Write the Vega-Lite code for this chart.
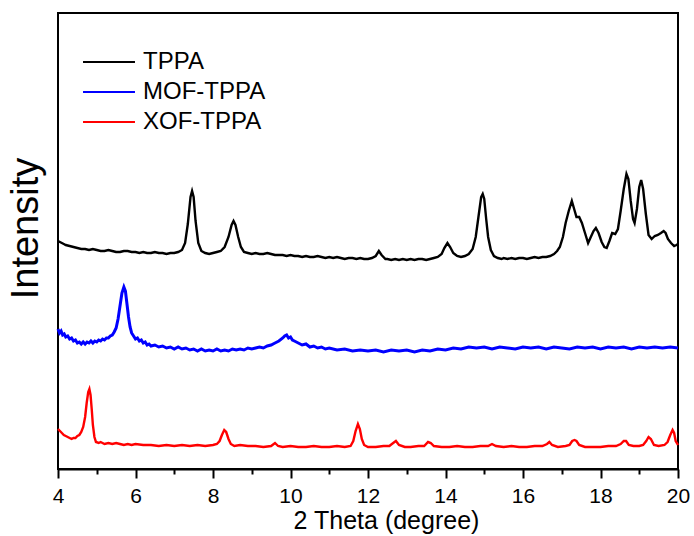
{
  "$schema": "https://vega.github.io/schema/vega-lite/v6.json",
  "width": 620,
  "height": 456,
  "autosize": {"type": "none"},
  "padding": {"left": 58, "top": 13, "right": 16, "bottom": 67},
  "background": "white",
  "config": {
    "view": {"stroke": "black", "strokeWidth": 2},
    "font": "Liberation Sans",
    "axis": {"grid": false, "domainColor": "black", "tickColor": "black", "labelColor": "black", "titleColor": "black", "titleFontWeight": "normal", "labelFont": "Liberation Sans", "titleFont": "Liberation Sans"},
    "legend": {"labelFont": "Liberation Sans", "labelColor": "black"}
  },
  "datasets": {
    "tppa": [
      {"x":4.0,"y":228},{"x":4.05,"y":227},{"x":4.1,"y":226},{"x":4.15,"y":225},{"x":4.2,"y":224},{"x":4.3,"y":223},{"x":4.4,"y":222},{"x":4.5,"y":221},{"x":4.6,"y":220},{"x":4.7,"y":220},{"x":4.8,"y":219},{"x":4.9,"y":220},{"x":5.0,"y":219},{"x":5.1,"y":218},{"x":5.2,"y":218},{"x":5.3,"y":219},{"x":5.4,"y":218},{"x":5.5,"y":217},{"x":5.6,"y":217},{"x":5.7,"y":218},{"x":5.8,"y":218},{"x":5.9,"y":217},{"x":6.0,"y":217},{"x":6.1,"y":216},{"x":6.2,"y":217},{"x":6.3,"y":216},{"x":6.4,"y":216},{"x":6.5,"y":217},{"x":6.6,"y":216},{"x":6.7,"y":216},{"x":6.8,"y":215},{"x":6.9,"y":216},{"x":7.0,"y":216},{"x":7.1,"y":217},{"x":7.2,"y":219},{"x":7.28,"y":226},{"x":7.35,"y":245},{"x":7.42,"y":272},{"x":7.46,"y":278},{"x":7.5,"y":272},{"x":7.55,"y":248},{"x":7.62,"y":226},{"x":7.7,"y":218},{"x":7.8,"y":216},{"x":7.9,"y":215},{"x":8.0,"y":216},{"x":8.1,"y":217},{"x":8.2,"y":218},{"x":8.3,"y":222},{"x":8.4,"y":232},{"x":8.48,"y":244},{"x":8.53,"y":248},{"x":8.58,"y":244},{"x":8.65,"y":232},{"x":8.72,"y":222},{"x":8.8,"y":217},{"x":8.9,"y":216},{"x":9.0,"y":215},{"x":9.1,"y":216},{"x":9.2,"y":215},{"x":9.3,"y":215},{"x":9.4,"y":216},{"x":9.5,"y":215},{"x":9.6,"y":214},{"x":9.7,"y":214},{"x":9.8,"y":214},{"x":9.9,"y":213},{"x":10.0,"y":214},{"x":10.1,"y":213},{"x":10.2,"y":213},{"x":10.3,"y":212},{"x":10.4,"y":213},{"x":10.5,"y":212},{"x":10.6,"y":212},{"x":10.7,"y":213},{"x":10.8,"y":212},{"x":10.9,"y":211},{"x":11.0,"y":212},{"x":11.1,"y":211},{"x":11.2,"y":212},{"x":11.3,"y":211},{"x":11.4,"y":210},{"x":11.5,"y":211},{"x":11.6,"y":211},{"x":11.7,"y":210},{"x":11.8,"y":211},{"x":11.9,"y":210},{"x":12.0,"y":210},{"x":12.1,"y":211},{"x":12.2,"y":213},{"x":12.28,"y":218},{"x":12.35,"y":214},{"x":12.45,"y":210},{"x":12.5,"y":210},{"x":12.6,"y":209},{"x":12.7,"y":210},{"x":12.8,"y":209},{"x":12.9,"y":210},{"x":13.0,"y":209},{"x":13.1,"y":210},{"x":13.2,"y":209},{"x":13.3,"y":210},{"x":13.4,"y":210},{"x":13.5,"y":209},{"x":13.6,"y":210},{"x":13.7,"y":211},{"x":13.8,"y":212},{"x":13.9,"y":215},{"x":13.97,"y":221},{"x":14.05,"y":226},{"x":14.12,"y":222},{"x":14.2,"y":216},{"x":14.3,"y":213},{"x":14.4,"y":212},{"x":14.5,"y":213},{"x":14.6,"y":215},{"x":14.7,"y":220},{"x":14.78,"y":232},{"x":14.85,"y":252},{"x":14.92,"y":272},{"x":14.96,"y":275},{"x":15.0,"y":270},{"x":15.05,"y":250},{"x":15.1,"y":232},{"x":15.17,"y":219},{"x":15.25,"y":213},{"x":15.35,"y":211},{"x":15.45,"y":210},{"x":15.5,"y":211},{"x":15.6,"y":210},{"x":15.7,"y":211},{"x":15.8,"y":210},{"x":15.9,"y":211},{"x":16.0,"y":211},{"x":16.1,"y":210},{"x":16.2,"y":211},{"x":16.3,"y":212},{"x":16.4,"y":211},{"x":16.5,"y":212},{"x":16.6,"y":212},{"x":16.7,"y":213},{"x":16.8,"y":215},{"x":16.88,"y":218},{"x":16.95,"y":222},{"x":17.03,"y":232},{"x":17.1,"y":246},{"x":17.18,"y":258},{"x":17.26,"y":268},{"x":17.32,"y":260},{"x":17.38,"y":252},{"x":17.45,"y":252},{"x":17.52,"y":246},{"x":17.6,"y":236},{"x":17.68,"y":226},{"x":17.75,"y":232},{"x":17.82,"y":238},{"x":17.88,"y":241},{"x":17.95,"y":236},{"x":18.03,"y":227},{"x":18.1,"y":222},{"x":18.16,"y":221},{"x":18.23,"y":228},{"x":18.3,"y":236},{"x":18.38,"y":235},{"x":18.45,"y":240},{"x":18.52,"y":258},{"x":18.6,"y":280},{"x":18.67,"y":295},{"x":18.72,"y":290},{"x":18.78,"y":268},{"x":18.84,"y":250},{"x":18.88,"y":246},{"x":18.94,"y":260},{"x":19.0,"y":282},{"x":19.05,"y":289},{"x":19.1,"y":280},{"x":19.17,"y":255},{"x":19.24,"y":234},{"x":19.32,"y":230},{"x":19.4,"y":233},{"x":19.48,"y":234},{"x":19.56,"y":236},{"x":19.63,"y":238},{"x":19.68,"y":236},{"x":19.74,"y":230},{"x":19.82,"y":226},{"x":19.9,"y":223},{"x":19.96,"y":224},{"x":20.0,"y":225}
    ],
    "mof": [
      {"x":4.0,"y":140},{"x":4.04,"y":136},{"x":4.08,"y":138},{"x":4.12,"y":134},{"x":4.16,"y":135},{"x":4.2,"y":132},{"x":4.25,"y":133},{"x":4.3,"y":130},{"x":4.35,"y":131},{"x":4.4,"y":128},{"x":4.45,"y":129},{"x":4.5,"y":126},{"x":4.55,"y":127},{"x":4.6,"y":125},{"x":4.65,"y":127},{"x":4.7,"y":125},{"x":4.75,"y":127},{"x":4.8,"y":126},{"x":4.85,"y":128},{"x":4.9,"y":126},{"x":4.95,"y":128},{"x":5.0,"y":127},{"x":5.05,"y":129},{"x":5.1,"y":128},{"x":5.15,"y":130},{"x":5.2,"y":129},{"x":5.25,"y":131},{"x":5.3,"y":131},{"x":5.35,"y":133},{"x":5.4,"y":134},{"x":5.45,"y":137},{"x":5.5,"y":141},{"x":5.55,"y":150},{"x":5.6,"y":163},{"x":5.65,"y":176},{"x":5.7,"y":182},{"x":5.74,"y":178},{"x":5.78,"y":165},{"x":5.82,"y":152},{"x":5.86,"y":142},{"x":5.9,"y":136},{"x":5.95,"y":133},{"x":6.0,"y":130},{"x":6.05,"y":131},{"x":6.1,"y":128},{"x":6.15,"y":129},{"x":6.2,"y":126},{"x":6.25,"y":127},{"x":6.3,"y":124},{"x":6.35,"y":125},{"x":6.4,"y":123},{"x":6.5,"y":124},{"x":6.6,"y":122},{"x":6.7,"y":123},{"x":6.8,"y":121},{"x":6.9,"y":122},{"x":7.0,"y":120},{"x":7.1,"y":122},{"x":7.2,"y":120},{"x":7.3,"y":121},{"x":7.4,"y":119},{"x":7.5,"y":120},{"x":7.6,"y":118},{"x":7.7,"y":120},{"x":7.8,"y":118},{"x":7.9,"y":119},{"x":8.0,"y":118},{"x":8.1,"y":120},{"x":8.2,"y":118},{"x":8.3,"y":119},{"x":8.4,"y":118},{"x":8.5,"y":120},{"x":8.6,"y":119},{"x":8.7,"y":120},{"x":8.8,"y":119},{"x":8.9,"y":121},{"x":9.0,"y":120},{"x":9.1,"y":121},{"x":9.2,"y":122},{"x":9.3,"y":121},{"x":9.4,"y":123},{"x":9.5,"y":124},{"x":9.6,"y":126},{"x":9.7,"y":128},{"x":9.8,"y":131},{"x":9.85,"y":133},{"x":9.9,"y":134},{"x":9.95,"y":131},{"x":10.0,"y":132},{"x":10.05,"y":129},{"x":10.1,"y":128},{"x":10.2,"y":126},{"x":10.3,"y":124},{"x":10.4,"y":125},{"x":10.5,"y":122},{"x":10.6,"y":123},{"x":10.7,"y":121},{"x":10.8,"y":122},{"x":10.9,"y":120},{"x":11.0,"y":121},{"x":11.2,"y":119},{"x":11.4,"y":120},{"x":11.6,"y":118},{"x":11.8,"y":119},{"x":12.0,"y":118},{"x":12.2,"y":119},{"x":12.4,"y":117},{"x":12.6,"y":119},{"x":12.8,"y":118},{"x":13.0,"y":119},{"x":13.2,"y":117},{"x":13.4,"y":119},{"x":13.6,"y":118},{"x":13.8,"y":120},{"x":14.0,"y":119},{"x":14.2,"y":121},{"x":14.4,"y":120},{"x":14.6,"y":122},{"x":14.8,"y":121},{"x":15.0,"y":122},{"x":15.2,"y":120},{"x":15.4,"y":122},{"x":15.6,"y":121},{"x":15.8,"y":120},{"x":16.0,"y":122},{"x":16.2,"y":121},{"x":16.4,"y":122},{"x":16.6,"y":120},{"x":16.8,"y":122},{"x":17.0,"y":121},{"x":17.2,"y":120},{"x":17.4,"y":122},{"x":17.6,"y":121},{"x":17.8,"y":122},{"x":18.0,"y":120},{"x":18.2,"y":122},{"x":18.4,"y":121},{"x":18.6,"y":122},{"x":18.8,"y":120},{"x":19.0,"y":122},{"x":19.2,"y":121},{"x":19.4,"y":122},{"x":19.6,"y":121},{"x":19.8,"y":122},{"x":20.0,"y":121}
    ],
    "xof": [
      {"x":4.0,"y":40},{"x":4.05,"y":38},{"x":4.1,"y":36},{"x":4.15,"y":34},{"x":4.2,"y":33},{"x":4.25,"y":32},{"x":4.3,"y":31},{"x":4.35,"y":30},{"x":4.4,"y":31},{"x":4.45,"y":31},{"x":4.5,"y":33},{"x":4.55,"y":34},{"x":4.6,"y":37},{"x":4.65,"y":42},{"x":4.7,"y":52},{"x":4.74,"y":66},{"x":4.78,"y":77},{"x":4.81,"y":80},{"x":4.84,"y":74},{"x":4.87,"y":60},{"x":4.9,"y":44},{"x":4.94,"y":32},{"x":4.98,"y":27},{"x":5.05,"y":26},{"x":5.1,"y":27},{"x":5.2,"y":25},{"x":5.3,"y":26},{"x":5.4,"y":25},{"x":5.5,"y":26},{"x":5.6,"y":25},{"x":5.7,"y":24},{"x":5.8,"y":25},{"x":5.9,"y":24},{"x":6.0,"y":25},{"x":6.2,"y":24},{"x":6.4,"y":24},{"x":6.6,"y":23},{"x":6.8,"y":24},{"x":7.0,"y":23},{"x":7.2,"y":24},{"x":7.4,"y":23},{"x":7.6,"y":24},{"x":7.8,"y":23},{"x":8.0,"y":24},{"x":8.1,"y":25},{"x":8.17,"y":28},{"x":8.23,"y":34},{"x":8.29,"y":39},{"x":8.34,"y":37},{"x":8.4,"y":30},{"x":8.46,"y":25},{"x":8.55,"y":23},{"x":8.7,"y":24},{"x":8.9,"y":23},{"x":9.1,"y":23},{"x":9.3,"y":22},{"x":9.5,"y":23},{"x":9.6,"y":26},{"x":9.68,"y":23},{"x":9.8,"y":22},{"x":10.0,"y":23},{"x":10.2,"y":22},{"x":10.4,"y":22},{"x":10.6,"y":23},{"x":10.8,"y":22},{"x":11.0,"y":22},{"x":11.2,"y":23},{"x":11.4,"y":22},{"x":11.55,"y":23},{"x":11.62,"y":28},{"x":11.68,"y":38},{"x":11.74,"y":45},{"x":11.79,"y":40},{"x":11.84,"y":30},{"x":11.9,"y":24},{"x":12.0,"y":22},{"x":12.2,"y":22},{"x":12.4,"y":23},{"x":12.55,"y":23},{"x":12.65,"y":26},{"x":12.72,"y":28},{"x":12.8,"y":24},{"x":12.95,"y":22},{"x":13.1,"y":22},{"x":13.3,"y":23},{"x":13.45,"y":23},{"x":13.55,"y":27},{"x":13.62,"y":26},{"x":13.7,"y":23},{"x":13.9,"y":22},{"x":14.1,"y":22},{"x":14.3,"y":23},{"x":14.5,"y":22},{"x":14.7,"y":22},{"x":14.9,"y":23},{"x":15.1,"y":23},{"x":15.2,"y":25},{"x":15.3,"y":23},{"x":15.5,"y":22},{"x":15.7,"y":23},{"x":15.9,"y":22},{"x":16.1,"y":22},{"x":16.3,"y":23},{"x":16.5,"y":23},{"x":16.62,"y":25},{"x":16.68,"y":27},{"x":16.75,"y":24},{"x":16.9,"y":22},{"x":17.1,"y":23},{"x":17.2,"y":24},{"x":17.27,"y":28},{"x":17.33,"y":29},{"x":17.38,"y":28},{"x":17.45,"y":24},{"x":17.6,"y":22},{"x":17.8,"y":22},{"x":18.0,"y":22},{"x":18.2,"y":23},{"x":18.4,"y":23},{"x":18.52,"y":25},{"x":18.6,"y":28},{"x":18.66,"y":28},{"x":18.73,"y":24},{"x":18.85,"y":23},{"x":19.0,"y":23},{"x":19.1,"y":24},{"x":19.18,"y":28},{"x":19.24,"y":32},{"x":19.3,"y":30},{"x":19.38,"y":24},{"x":19.5,"y":23},{"x":19.65,"y":24},{"x":19.73,"y":27},{"x":19.8,"y":34},{"x":19.86,"y":39},{"x":19.9,"y":36},{"x":19.94,"y":28},{"x":20.0,"y":24}
    ]
  },
  "encoding": {
    "x": {"field": "x", "type": "quantitative", "scale": {"domain": [4, 20], "nice": false, "zero": false},
      "axis": {"values": [4, 5, 6, 7, 8, 9, 10, 11, 12, 13, 14, 15, 16, 17, 18, 19, 20],
        "tickSize": {"condition": {"test": "datum.value % 2 == 0", "value": 9}, "value": 5},
        "labelExpr": "datum.value % 2 == 0 ? datum.label : ''",
        "tickWidth": 2, "domainWidth": 2, "labelFontSize": 21, "labelPadding": 7, "labelFlush": false,
        "title": "2 Theta (degree)", "titleFontSize": 25, "titleX": 328, "titleY": 59, "titleBaseline": "alphabetic", "titleAlign": "center"}},
    "y": {"field": "y", "type": "quantitative", "scale": {"domain": [0, 456], "nice": false},
      "axis": {"labels": false, "ticks": false, "domain": false, "title": "Intensity", "titleFontSize": 38, "titleX": -21, "titleY": 215, "titleAngle": -90, "titleBaseline": "alphabetic", "titleAlign": "center"}},
    "color": {"datum": "TPPA", "type": "nominal",
      "scale": {"domain": ["TPPA", "MOF-TPPA", "XOF-TPPA"], "range": ["#000000", "#0000ff", "#ff0000"]},
      "legend": {"title": null, "orient": "none", "legendX": 39, "legendY": 37, "padding": 0, "direction": "vertical",
        "symbolType": "M-5,0H5", "symbolSize": 108, "symbolStrokeWidth": 2, "labelFontSize": 24, "labelOffset": 22, "rowPadding": 6}}
  },
  "layer": [
    {"data": {"name": "tppa"}, "mark": {"type": "line", "strokeWidth": 2.4}, "encoding": {"color": {"datum": "TPPA", "type": "nominal"}}},
    {"data": {"name": "mof"}, "mark": {"type": "line", "strokeWidth": 3}, "encoding": {"color": {"datum": "MOF-TPPA", "type": "nominal"}}},
    {"data": {"name": "xof"}, "mark": {"type": "line", "strokeWidth": 2.4}, "encoding": {"color": {"datum": "XOF-TPPA", "type": "nominal"}}}
  ]
}
